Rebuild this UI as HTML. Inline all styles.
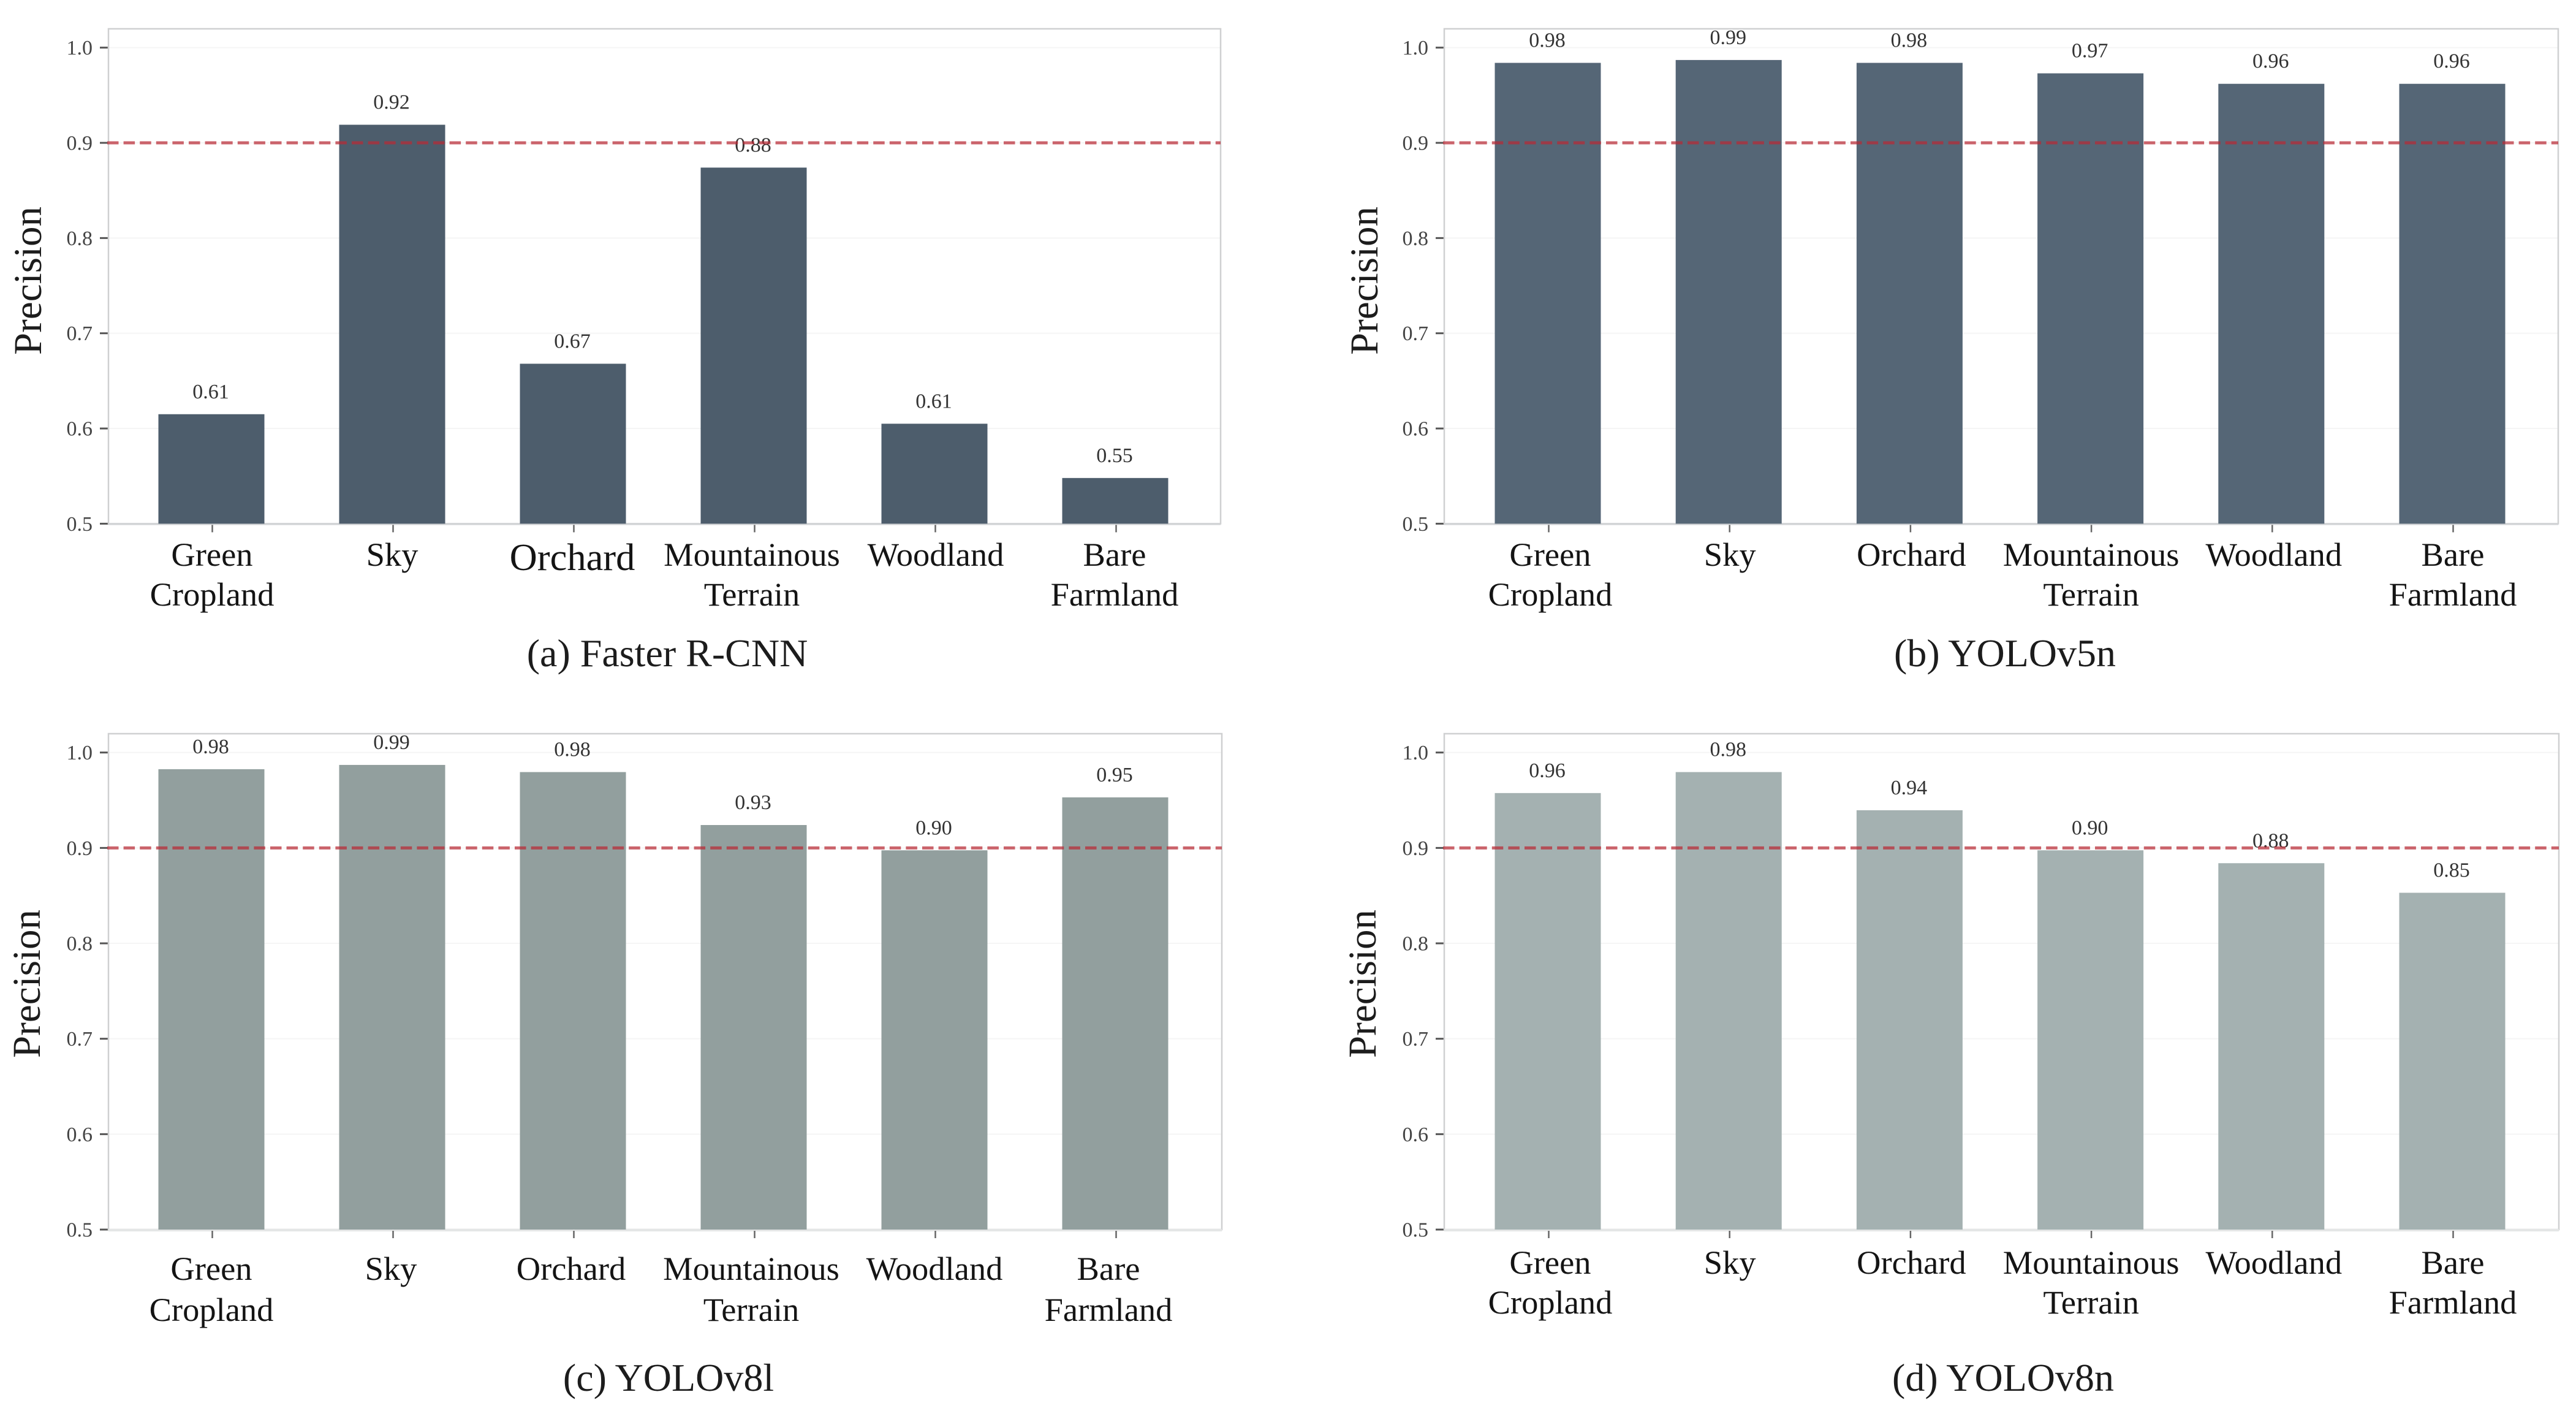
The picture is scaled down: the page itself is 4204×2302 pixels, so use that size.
<!DOCTYPE html>
<html lang="en">
<head>
<meta charset="utf-8">
<title>Precision by category for four detection models</title>
<style>
  html, body { margin: 0; padding: 0; background: #ffffff; }
  body { width: 4204px; height: 2302px; overflow: hidden; }
  svg { display: block; }
  text { font-family: "Liberation Serif", "Times New Roman", serif; }
  .panel-title { font-size: 64px; fill: #1c1c1c; text-anchor: middle; }
  .y-title { font-size: 65px; fill: #1c1c1c; text-anchor: middle; }
  .y-tick { font-size: 34px; fill: #444444; text-anchor: end; }
  .x-label { font-size: 54.5px; fill: #141414; text-anchor: middle; }
  .value-label { font-size: 34px; fill: #333333; text-anchor: middle; }
</style>
</head>
<body>
<svg id="chart" xmlns="http://www.w3.org/2000/svg" width="4204" height="2302" viewBox="0 0 4204 2302">
  <rect x="0" y="0" width="4204" height="2302" fill="#ffffff"/>

  <g id="panel-a">
    <text class="y-title" transform="translate(67 458) rotate(-90)">Precision</text>
    <text class="panel-title" x="1089" y="1087">(a) Faster R-CNN</text>
  </g>
  <g id="panel-b">
    <text class="y-title" transform="translate(2248 458) rotate(-90)">Precision</text>
    <text class="panel-title" x="3272" y="1087">(b) YOLOv5n</text>
  </g>
  <g id="panel-c">
    <text class="y-title" transform="translate(65 1605) rotate(-90)">Precision</text>
    <text class="panel-title" x="1091" y="2269">(c) YOLOv8l</text>
  </g>
  <g id="panel-d">
    <text class="y-title" transform="translate(2245 1605) rotate(-90)">Precision</text>
    <text class="panel-title" x="3269" y="2269">(d) YOLOv8n</text>
  </g>
</svg>

<script>
// ---- chart data ----
const categoryLine1 = ["Green", "Sky", "Orchard", "Mountainous", "Woodland", "Bare"];
const categoryLine2 = ["Cropland", "", "", "Terrain", "", "Farmland"];
const yTickValues = [0.5, 0.6, 0.7, 0.8, 0.9, 1.0];
const yTickLabels = ["0.5", "0.6", "0.7", "0.8", "0.9", "1.0"];
const thresholdValue = 0.9;

const fasterRcnnValues = [0.615, 0.919, 0.668, 0.874, 0.605, 0.548];
const yolov5nValues = [0.984, 0.987, 0.984, 0.973, 0.962, 0.962];
const yolov8lValues = [0.9825, 0.987, 0.9795, 0.924, 0.8975, 0.953];
const yolov8nValues = [0.9575, 0.9795, 0.9395, 0.8975, 0.884, 0.853];

const fasterRcnnLabels = ["0.61", "0.92", "0.67", "0.88", "0.61", "0.55"];
const yolov5nLabels = ["0.98", "0.99", "0.98", "0.97", "0.96", "0.96"];
const yolov8lLabels = ["0.98", "0.99", "0.98", "0.93", "0.90", "0.95"];
const yolov8nLabels = ["0.96", "0.98", "0.94", "0.90", "0.88", "0.85"];

// ---- layout (geometry and styling only) ----
const SVG_NS = "http://www.w3.org/2000/svg";
const AXIS_MIN = 0.5;
const BAR_WIDTH = 173;

const panelLayouts = [
  { key: "a", values: fasterRcnnValues, labels: fasterRcnnLabels, color: "#4d5d6c",
    left: 177, right: 1992, base: 854.4, top: 47, pxPerUnit: 1553.4, first: 345, step: 295,
    labelY: 923, lineGap: 65, labelNudge: [1, 0, -1, -3, 2, -1], bottomWidth: 2.5, bottomColor: "#d2d4d6" },
  { key: "b", values: yolov5nValues, labels: yolov5nLabels, color: "#556676",
    left: 2357, right: 4175, base: 854.4, top: 47, pxPerUnit: 1553.4, first: 2526, step: 295.2,
    labelY: 923, lineGap: 65, labelNudge: [4, 2, 3, 1, 4, 1], bottomWidth: 2.5, bottomColor: "#d2d4d6" },
  { key: "c", values: yolov8lValues, labels: yolov8lLabels, color: "#929f9e",
    left: 177, right: 1994, base: 2006, top: 1197, pxPerUnit: 1556.6, first: 345, step: 295,
    labelY: 2088, lineGap: 67, labelNudge: [0, -2, -3, -4, 0, -11], bottomWidth: 4, bottomColor: "#e4e6e6" },
  { key: "d", values: yolov8nValues, labels: yolov8nLabels, color: "#a4b1b1",
    left: 2357, right: 4176, base: 2006, top: 1197, pxPerUnit: 1556.6, first: 2526, step: 295.2,
    labelY: 2078, lineGap: 65, labelNudge: [4, 2, 3, 1, 4, 1], bottomWidth: 4, bottomColor: "#e4e6e6" }
];

function yScale(layout, value) {
  return layout.base - (value - AXIS_MIN) * layout.pxPerUnit;
}
function xScale(layout, index) {
  return layout.first + index * layout.step;
}
function addShape(parent, tag, attrs) {
  const el = document.createElementNS(SVG_NS, tag);
  Object.keys(attrs).forEach(function (k) { el.setAttribute(k, attrs[k]); });
  parent.appendChild(el);
  return el;
}

panelLayouts.forEach(function (p) {
  const g = document.getElementById("panel-" + p.key);

  // gridlines and y ticks
  yTickValues.forEach(function (v, i) {
    const y = yScale(p, v);
    if (v !== AXIS_MIN) {
      const grid = addShape(g, "line", { x1: p.left, x2: p.right, y1: y, y2: y, stroke: "#f5f5f5", "stroke-width": 2 });
      
      
    }
    const tick = addShape(g, "line", { x1: p.left - 14, x2: p.left, y1: y, y2: y, stroke: "#555555", "stroke-width": 3 });
    
    
    const label = addShape(g, "text", { class: "y-tick", x: p.left - 26, y: y + 11.5 });
    label.textContent = yTickLabels[i];
    
    
  });

  // plot frame
  const frame = addShape(g, "rect", { x: p.left, y: p.top, width: p.right - p.left, height: p.base - p.top, fill: "none", stroke: "#cfd0d1", "stroke-width": 2.5 });
  
  

  const xAxisLine = addShape(g, "line", { x1: p.left, x2: p.right, y1: p.base + 1, y2: p.base + 1, stroke: p.bottomColor, "stroke-width": p.bottomWidth });
  
  

  // bars, x ticks, category labels and printed values
  p.values.forEach(function (v, i) {
    const cx = xScale(p, i);
    const barTop = yScale(p, v);
    const bar = addShape(g, "rect", { x: cx - BAR_WIDTH / 2, y: barTop, width: BAR_WIDTH, height: p.base - barTop, fill: p.color });
    
    

    const xTick = addShape(g, "line", { x1: cx + 1.5, x2: cx + 1.5, y1: p.base + 2, y2: p.base + 14, stroke: "#666666", "stroke-width": 2.5 });
    
    

    const enlarged = p.key === "a" && categoryLine1[i] === "Orchard";
    const line1 = addShape(g, "text", { class: "x-label", x: cx + p.labelNudge[i], y: p.labelY + (enlarged ? 7 : 0) });
    line1.textContent = categoryLine1[i];
    if (enlarged) { line1.style.fontSize = "62.5px"; }
    
    

    if (categoryLine2[i]) {
      const line2 = addShape(g, "text", { class: "x-label", x: cx + p.labelNudge[i], y: p.labelY + p.lineGap });
      line2.textContent = categoryLine2[i];
      
      
    }

    const printed = addShape(g, "text", { class: "value-label", x: cx - 1, y: barTop - 26 });
    printed.textContent = p.labels[i];
    
    
  });

  // threshold line, drawn over the bars
  const thresholdY = yScale(p, thresholdValue);
  const threshold = addShape(g, "line", { x1: p.left - 2, x2: p.right, y1: thresholdY, y2: thresholdY, stroke: "#b92a35", "stroke-opacity": 0.72, "stroke-width": 5, "stroke-dasharray": "18.5 8.1" });
  
  
});
</script>
</body>
</html>
